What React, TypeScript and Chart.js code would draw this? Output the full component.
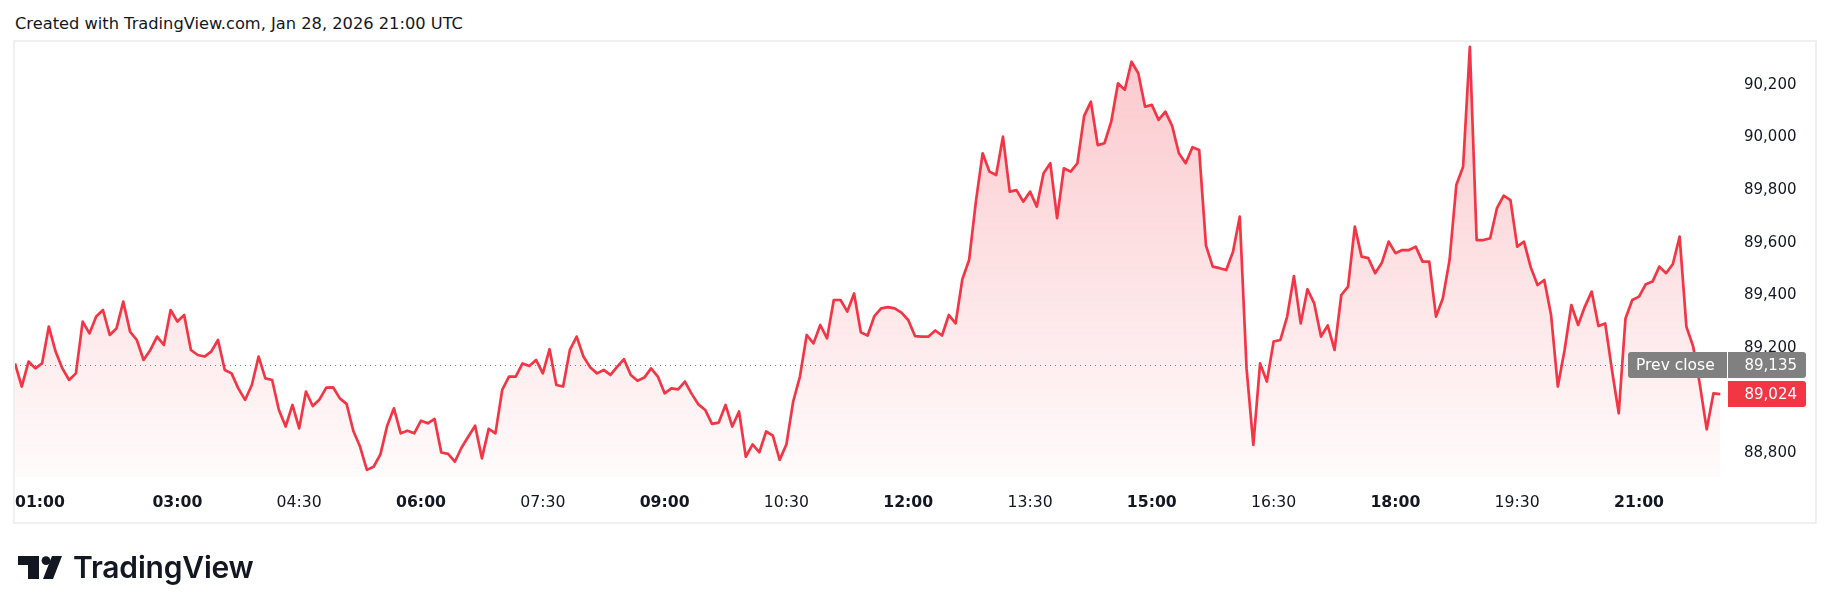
import React, { useEffect, useRef } from 'react';
import { Chart, registerables } from 'chart.js';

Chart.register(...registerables);

// ---- data (5-minute closes, starting 01:00 UTC) ----
const START_MINUTE = 60;
const STEP_MINUTES = 5;
const prices: number[] = [
  89141, 89053, 89148, 89122, 89141, 89281, 89186, 89122, 89078, 89103,
  89300, 89255, 89319, 89344, 89249, 89274, 89376, 89262, 89230, 89154,
  89192, 89243, 89211, 89344, 89300, 89325, 89192, 89173, 89167, 89186,
  89230, 89116, 89103, 89046, 89002, 89059, 89167, 89084, 89078, 88964,
  88901, 88983, 88894, 89034, 88979, 89004, 89049, 89050, 89008, 88987,
  88884, 88824, 88736, 88748, 88795, 88904, 88970, 88875, 88885, 88875,
  88923, 88913, 88930, 88802, 88797, 88767, 88821, 88863, 88904, 88780,
  88892, 88875, 89040, 89091, 89091, 89141, 89131, 89154, 89103, 89195,
  89059, 89053, 89192, 89243, 89167, 89126, 89103, 89116, 89097, 89129,
  89157, 89097, 89075, 89087, 89122, 89091, 89027, 89046, 89042, 89072,
  89025, 88985, 88964, 88911, 88916, 88983, 88901, 88958, 88786, 88833,
  88803, 88882, 88866, 88774, 88833, 88996, 89091, 89249, 89217, 89287,
  89236, 89382, 89382, 89338, 89407, 89259, 89247, 89321, 89350, 89355,
  89350, 89334, 89306, 89245, 89243, 89243, 89266, 89247, 89325, 89293,
  89461, 89534, 89756, 89940, 89870, 89857, 90003, 89794, 89800, 89756,
  89794, 89737, 89864, 89902, 89693, 89883, 89870, 89902, 90082, 90136,
  89971, 89978, 90060, 90206, 90181, 90288, 90244, 90117, 90124, 90067,
  90098, 90044, 89940, 89902, 89963, 89952, 89590, 89509, 89503, 89496,
  89566, 89699, 89122, 88831, 89141, 89072, 89224, 89230, 89319, 89473,
  89293, 89423, 89369, 89243, 89285, 89192, 89401, 89433, 89661, 89547,
  89541, 89484, 89524, 89604, 89560, 89572, 89572, 89585, 89528, 89528,
  89319, 89388, 89534, 89819, 89889, 90345, 89610, 89610, 89617, 89731,
  89779, 89762, 89585, 89604, 89506, 89439, 89458, 89325, 89053, 89192,
  89363, 89287, 89357, 89414, 89283, 89293, 89116, 88951, 89312, 89382,
  89395, 89442, 89452, 89509, 89484, 89519, 89623, 89281, 89205, 89059,
  88890, 89027, 89024,
];

const timeTickMinutes = [60, 180, 270, 360, 450, 540, 630, 720, 810, 900, 990, 1080, 1170, 1260];
const timeTickLabels = ['01:00', '03:00', '04:30', '06:00', '07:30', '09:00', '10:30', '12:00', '13:30', '15:00', '16:30', '18:00', '19:30', '21:00'];
const boldTimeLabels = ['01:00', '03:00', '06:00', '09:00', '12:00', '15:00', '18:00', '21:00'];
const priceTicks = [88800, 89000, 89200, 89400, 89600, 89800, 90000, 90200];

const PREV_CLOSE = 89135;
const LAST_PRICE = 89024;
const X_MIN = 60;
const X_MAX = 1325;
const Y_MIN = 88709;
const Y_MAX = 90363;

const TITLE = 'Created with TradingView.com, Jan 28, 2026 21:00 UTC';
const RED = '#f23645';
const TEXT = '#131722';
const FONT = "'DejaVu Sans', Verdana, sans-serif";

const fmt = (v: number) => Number(v).toLocaleString('en-US');

const overlayPlugin = {
  id: 'tvOverlay',
  afterDatasetsDraw(chart: any) {
    const { ctx, chartArea, scales } = chart;
    const y = Math.round(scales.y.getPixelForValue(PREV_CLOSE)) + 0.5;
    ctx.save();
    ctx.strokeStyle = 'rgba(110,113,120,0.9)';
    ctx.lineWidth = 1;
    ctx.setLineDash([1, 4]);
    ctx.beginPath();
    ctx.moveTo(chartArea.left, y);
    ctx.lineTo(chartArea.right - 99, y);
    ctx.stroke();
    ctx.restore();
  },
  afterDraw(chart: any) {
    const { ctx, chartArea, scales } = chart;
    const axisLeft = chartArea.right;
    const labelRight = chart.width - 33;
    const h = 26;
    const yPrev = Math.round(scales.y.getPixelForValue(PREV_CLOSE));
    const yLast = Math.round(scales.y.getPixelForValue(LAST_PRICE));
    ctx.save();
    ctx.fillStyle = '#808080';
    ctx.beginPath();
    (ctx as any).roundRect(axisLeft - 99, yPrev - h / 2, 99, h, [3, 0, 0, 3]);
    ctx.fill();
    ctx.beginPath();
    (ctx as any).roundRect(axisLeft + 1, yPrev - h / 2, 78, h, [0, 3, 3, 0]);
    ctx.fill();
    ctx.fillStyle = RED;
    ctx.beginPath();
    (ctx as any).roundRect(axisLeft + 1, yLast - h / 2, 78, h, [0, 3, 3, 0]);
    ctx.fill();
    ctx.fillStyle = '#ffffff';
    ctx.textBaseline = 'middle';
    ctx.textAlign = 'left';
    ctx.font = `15.5px ${FONT}`;
    ctx.fillText('Prev close', axisLeft - 91, yPrev + 1);
    ctx.font = `15px ${FONT}`;
    ctx.textAlign = 'right';
    ctx.fillText(fmt(PREV_CLOSE), labelRight, yPrev + 1);
    ctx.fillText(fmt(LAST_PRICE), labelRight, yLast + 1);
    ctx.restore();
  },
};

function TVLogo() {
  return (
    <div style={{ position: 'absolute', left: 18, top: 552, height: 30, display: 'flex', alignItems: 'center' }}>
      <svg width="44" height="23" viewBox="0 0 44 23" style={{ display: 'block' }}>
        <path d="M0 0 H21 V23 H10 V9 H0 Z" fill={TEXT} />
        <circle cx="28" cy="4.6" r="4.4" fill={TEXT} />
        <path d="M34 0 H44 L35 23 H25 Z" fill={TEXT} />
      </svg>
      <span
        style={{
          marginLeft: 11,
          fontFamily: 'Inter, sans-serif',
          fontWeight: 600,
          fontSize: 30,
          letterSpacing: -0.2,
          color: TEXT,
          lineHeight: '30px',
        }}
      >
        TradingView
      </span>
    </div>
  );
}

export default function App() {
  const canvasRef = useRef<HTMLCanvasElement | null>(null);

  useEffect(() => {
    if (!canvasRef.current) return;
    const points = prices.map((p, i) => ({ x: START_MINUTE + i * STEP_MINUTES, y: p }));
    const chart = new Chart(canvasRef.current, {
      type: 'line',
      data: {
        datasets: [
          {
            data: points,
            borderColor: RED,
            borderWidth: 2.7,
            pointRadius: 0,
            tension: 0,
            borderJoinStyle: 'round',
            fill: 'start',
            backgroundColor: (context: any) => {
              const { chart: c } = context;
              const { ctx, chartArea } = c;
              if (!chartArea) return 'rgba(242,54,69,0.1)';
              const g = ctx.createLinearGradient(0, chartArea.top, 0, chartArea.bottom);
              g.addColorStop(0, 'rgba(242,54,69,0.28)');
              g.addColorStop(1, 'rgba(242,54,69,0.02)');
              return g;
            },
          } as any,
        ],
      },
      options: {
        animation: false,
        responsive: false,
        devicePixelRatio: 1,
        layout: { padding: { left: 15, top: 42, right: 33, bottom: 89 } },
        plugins: { legend: { display: false }, tooltip: { enabled: false } },
        scales: {
          x: {
            type: 'linear',
            min: X_MIN,
            max: X_MAX,
            grid: { display: false, drawTicks: false },
            border: { display: false },
            afterBuildTicks: (s: any) => {
              s.ticks = [...timeTickMinutes.map((v) => ({ value: v })), { value: X_MAX }];
            },
            afterFit: (s: any) => {
              s.height = 45;
              s.paddingLeft = 0;
              s.paddingRight = 0;
            },
            ticks: {
              autoSkip: false,
              maxRotation: 0,
              minRotation: 0,
              align: 'inner',
              padding: 17,
              color: TEXT,
              font: (c: any) => {
                const lbl = c.tick ? c.tick.label : '';
                return { family: FONT, size: 15.7, weight: boldTimeLabels.includes(lbl) ? 'bold' : 'normal' };
              },
              callback: (v: any) => {
                const idx = timeTickMinutes.indexOf(Number(v));
                return idx >= 0 ? timeTickLabels[idx] : '';
              },
            },
          } as any,
          y: {
            position: 'right',
            min: Y_MIN,
            max: Y_MAX,
            grid: { display: false, drawTicks: false },
            border: { display: false },
            afterBuildTicks: (s: any) => {
              s.ticks = priceTicks.map((v) => ({ value: v }));
            },
            afterFit: (s: any) => {
              s.width = 70;
            },
            ticks: {
              padding: 17,
              color: TEXT,
              font: { family: FONT, size: 15 },
              callback: (v: any) => fmt(v),
            },
          } as any,
        },
      },
      plugins: [overlayPlugin],
    });
    return () => chart.destroy();
  }, []);

  return (
    <div style={{ position: 'fixed', left: 0, top: 0, width: 1830, height: 611, background: '#ffffff', overflow: 'hidden' }}>
      <div
        style={{
          position: 'absolute',
          left: 15,
          top: 14,
          fontFamily: FONT,
          fontSize: 16.25,
          lineHeight: '20px',
          color: TEXT,
          whiteSpace: 'nowrap',
        }}
      >
        {TITLE}
      </div>
      <div
        style={{
          position: 'absolute',
          left: 13,
          top: 40,
          width: 1800,
          height: 480,
          border: '2px solid #f0f0f0',
        }}
      />
      <canvas ref={canvasRef} width={1830} height={611} style={{ position: 'absolute', left: 0, top: 0, width: 1830, height: 611 }} />
      <TVLogo />
    </div>
  );
}
